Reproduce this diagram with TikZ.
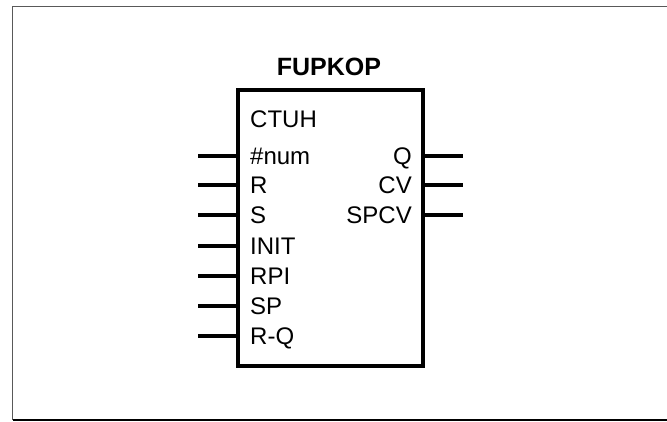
\documentclass[tikz,border=0pt]{standalone}
\usepackage{fontspec}
\setmainfont{Liberation Sans}
\begin{document}
\begin{tikzpicture}[x=1pt,y=-1pt,
  pin/.style={line width=3.2pt},
  lbl/.style={font=\fontsize{24}{26}\selectfont, inner sep=0pt},
  title/.style={font=\fontsize{25}{28}\selectfont\bfseries, inner sep=0pt},
  fb/.style={draw, line width=3.2pt, minimum width=185pt, minimum height=276pt, inner sep=0pt}]
\useasboundingbox (0,0) rectangle (667,421);
\fill[white] (0,0) rectangle (667,421);
% outer frame
\coordinate (fTL) at (12.5,6.5);
\coordinate (fTR) at (668,6.5);
\coordinate (fBL) at (12.5,420);
\coordinate (fBR) at (668,420);
\draw[line width=1.5pt, black!65] (fBL) -- (fTL) -- (fTR);
\draw[line width=1.5pt, black] (fBL) -- (fBR);
% block
\node[fb] (blk) at (330.5,228) {};
\node[title, anchor=base] (ttl) at (329,75) {FUPKOP};
\node[lbl, anchor=base west] (ctuh) at (250,127) {CTUH};
% inputs
\foreach \nm/\txt/\yy in {a/\#num/156, b/R/185, c/S/215, d/INIT/246, e/RPI/276, f/SP/306, g/R-Q/336}{
  \coordinate (in\nm) at (198,\yy);
  \draw[pin] (in\nm) -- (in\nm -| blk.west);
  \node[lbl, anchor=base west] (l\nm) at (250,\yy+8.5) {\txt};
}
% outputs
\foreach \nm/\txt/\yy in {q/Q/156, cv/CV/185, sp/SPCV/215}{
  \coordinate (out\nm) at (463,\yy);
  \draw[pin] (out\nm -| blk.east) -- (out\nm);
  \node[lbl, anchor=base east] (r\nm) at (412,\yy+8.5) {\txt};
}
\end{tikzpicture}
\end{document}
